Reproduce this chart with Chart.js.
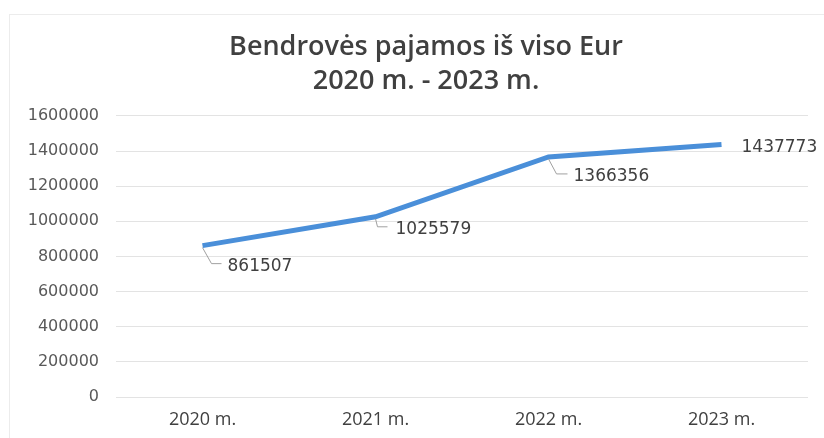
<!DOCTYPE html>
<html>
<head>
<meta charset="utf-8">
<script src="https://cdn.jsdelivr.net/npm/chart.js@4.4.1/dist/chart.umd.min.js"></script>
<style>
  html, body { margin: 0; padding: 0; background: #fff; }
  #wrap { width: 824px; height: 438px; position: relative; }
</style>
</head>
<body>
<div id="wrap"><canvas id="c" width="824" height="438"></canvas></div>
<script>
const categories = ["2020 m.", "2021 m.", "2022 m.", "2023 m."];
const revenue = [861507, 1025579, 1366356, 1437773];
const titleLines = ["Bendrovės pajamos iš viso Eur", "2020 m. - 2023 m."];
const yTicks = [0, 200000, 400000, 600000, 800000, 1000000, 1200000, 1400000, 1600000];

// label placement (styling): offsets relative to the point, in px
const labelPlacement = [
  { elbow: [9, 18], end: [19, 18], text: [25, 21], leader: true },
  { elbow: [2, 10], end: [12, 10], text: [20, 13], leader: true },
  { elbow: [8, 17], end: [19, 17], text: [25, 20], leader: true },
  { text: [20, 3], leader: false }
];

const frame = {
  id: 'frame',
  beforeDraw(chart) {
    const ctx = chart.ctx;
    ctx.save();
    ctx.fillStyle = '#ffffff';
    ctx.fillRect(0, 0, chart.width, chart.height);
    ctx.strokeStyle = '#ececec';
    ctx.lineWidth = 1;
    ctx.strokeRect(9.5, 14.5, 900, 500);
    ctx.restore();
  },
  afterDraw(chart) {
    const ctx = chart.ctx;
    ctx.save();
    ctx.fillStyle = '#404040';
    ctx.font = '600 27px "Open Sans"';
    ctx.textAlign = 'center';
    ctx.textBaseline = 'middle';
    ctx.fillText(titleLines[0], 426, 47);
    ctx.fillText(titleLines[1], 426, 81);
    ctx.restore();
  }
};

const callouts = {
  id: 'callouts',
  afterDatasetsDraw(chart) {
    const ctx = chart.ctx;
    const meta = chart.getDatasetMeta(0);
    ctx.save();
    meta.data.forEach((pt, i) => {
      const p = labelPlacement[i];
      const x = pt.x, y = pt.y;
      if (p.leader) {
        ctx.strokeStyle = '#a0a0a0';
        ctx.lineWidth = 1;
        ctx.beginPath();
        ctx.moveTo(x, y + 2);
        ctx.lineTo(x + p.elbow[0], y + p.elbow[1]);
        ctx.lineTo(x + p.end[0], y + p.end[1]);
        ctx.stroke();
      }
      ctx.fillStyle = '#404040';
      ctx.font = '17px "DejaVu Sans"';
      ctx.textAlign = 'left';
      ctx.textBaseline = 'middle';
      ctx.fillText(String(revenue[i]), x + p.text[0], y + p.text[1]);
    });
    ctx.restore();
  }
};

new Chart(document.getElementById('c'), {
  type: 'line',
  data: {
    labels: categories,
    datasets: [{
      data: revenue,
      borderColor: '#4a8fd9',
      borderWidth: 5,
      pointRadius: 0,
      tension: 0,
      fill: false
    }]
  },
  options: {
    responsive: false,
    animation: false,
    devicePixelRatio: 1,
    layout: { padding: { left: 0, right: 16, top: 0, bottom: 0 } },
    plugins: {
      legend: { display: false },
      tooltip: { enabled: false },
      title: {
        display: true,
        text: titleLines,
        color: 'rgba(0,0,0,0)',
        font: { family: '"Open Sans"', size: 27, weight: '600', lineHeight: 1.22 },
        padding: { top: 31, bottom: 19 }
      }
    },
    scales: {
      x: {
        offset: true,
        grid: { display: false, drawTicks: false },
        border: { display: false },
        ticks: {
          color: '#404040',
          font: { family: '"Open Sans"', size: 18 },
          padding: 12,
          maxRotation: 0
        },
        afterFit(s) { s.height = 41; }
      },
      y: {
        min: 0,
        max: 1600000,
        afterBuildTicks(s) { s.ticks = yTicks.map(v => ({ value: v })); },
        grid: { color: '#e3e3e3', lineWidth: 1, drawTicks: false },
        border: { display: false },
        ticks: {
          color: '#595959',
          font: { family: '"DejaVu Sans"', size: 16 },
          padding: 17,
          callback: v => String(v)
        },
        afterFit(s) { s.width = 116; }
      }
    }
  },
  plugins: [frame, callouts]
});
</script>
</body>
</html>
